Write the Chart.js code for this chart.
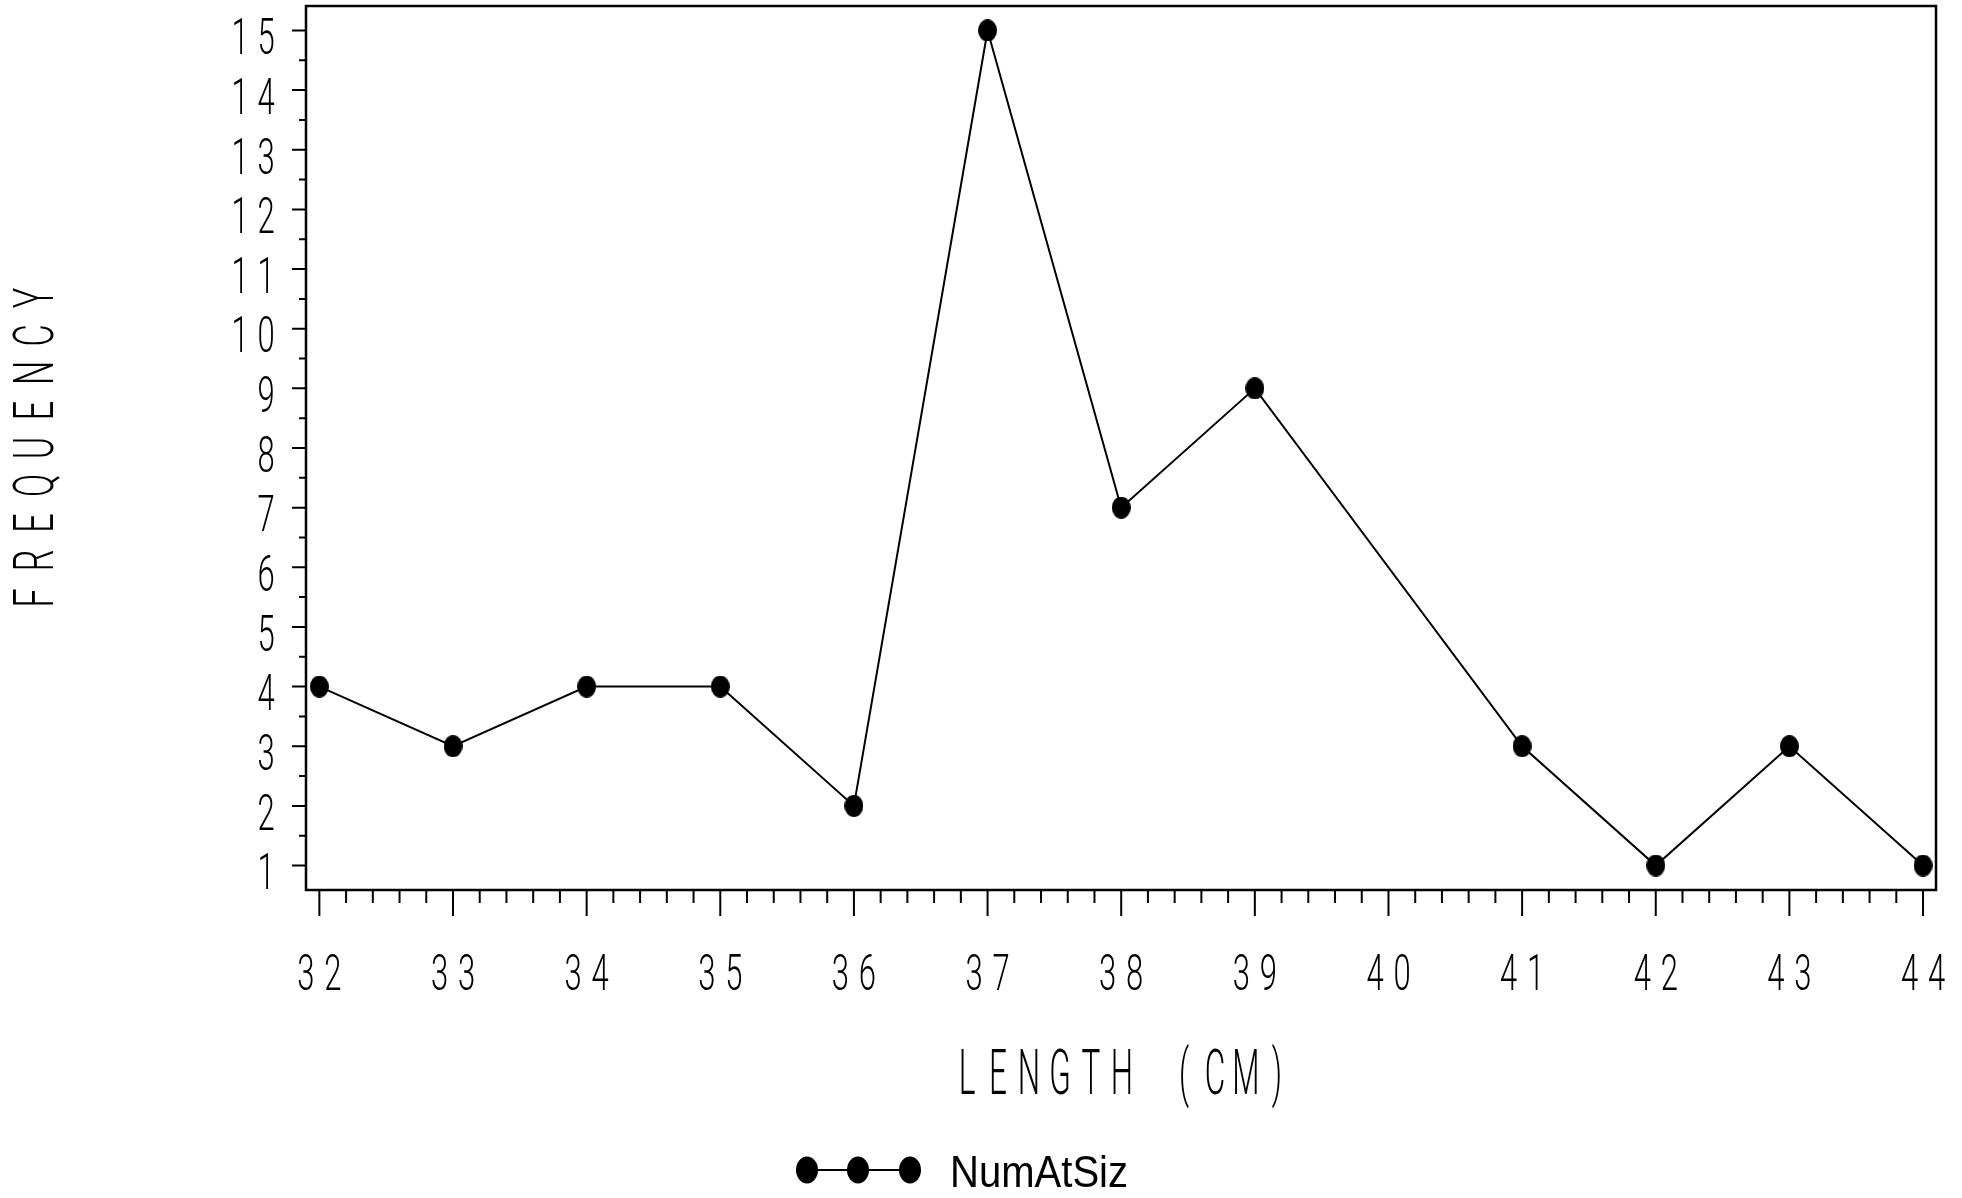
<!DOCTYPE html>
<html><head><meta charset="utf-8">
<script src="https://cdn.jsdelivr.net/npm/chart.js@4.4.0/dist/chart.umd.min.js"></script>
<style>html,body{margin:0;padding:0;background:#fff;}#wrap{width:1962px;height:1198px;}</style>
</head><body><div id="wrap"><canvas id="c" width="1962" height="1198"></canvas></div>
<script>
// ---- data ----
const lengths   = [32, 33, 34, 35, 36, 37, 38, 39, 41, 42, 43, 44];
const frequency = [4, 3, 4, 4, 2, 15, 7, 9, 3, 1, 3, 1];
const xTickValues = [32, 33, 34, 35, 36, 37, 38, 39, 40, 41, 42, 43, 44];
const yTickValues = [1, 2, 3, 4, 5, 6, 7, 8, 9, 10, 11, 12, 13, 14, 15];
const xTitle = 'LENGTH (CM)';
const yTitle = 'FREQUENCY';
const seriesName = 'NumAtSiz';

const THIN = "300 {S}px Roboto, 'DejaVu Sans', sans-serif";
function fnt(size){ return THIN.replace('{S}', size); }

function makeDot(w, h){
  const c = document.createElement('canvas'); c.width = w; c.height = h;
  const g = c.getContext('2d'); g.fillStyle = '#000';
  g.beginPath(); g.ellipse(w/2, h/2, w/2, h/2, 0, 0, Math.PI*2); g.fill();
  return c;
}
const dot = makeDot(19, 22);

function drawChars(ctx, text, centers, baseline, size, sx){
  ctx.font = fnt(size);
  ctx.textAlign = 'center';
  ctx.textBaseline = 'alphabetic';
  for (let i = 0; i < text.length; i++){
    const ch = text[i];
    if (ch === ' ') continue;
    ctx.save();
    ctx.translate(centers[i], baseline);
    ctx.scale(sx, 1);
    ctx.fillText(ch, 0, 0);
    ctx.restore();
  }
}
function centeredPositions(n, cx, pitch){
  const a = []; for (let i = 0; i < n; i++) a.push(cx + (i - (n-1)/2) * pitch); return a;
}

const decor = {
  id: 'decor',
  afterDraw(chart){
    const ctx = chart.ctx, a = chart.chartArea;
    const xs = chart.scales.x, ys = chart.scales.y;
    ctx.save();
    ctx.strokeStyle = '#000'; ctx.fillStyle = '#000';
    ctx.lineWidth = 2.5;
    ctx.strokeRect(a.left, a.top, a.right - a.left, a.bottom - a.top);
    ctx.lineWidth = 2;
    ctx.beginPath();
    for (let k = 2; k <= 30; k++){
      const v = k / 2; const py = ys.getPixelForValue(v);
      const len = (k % 2 === 0) ? 14 : 7;
      ctx.moveTo(a.left - len, py); ctx.lineTo(a.left, py);
    }
    for (let k = 160; k <= 220; k++){
      const v = k / 5; const px = xs.getPixelForValue(v);
      const len = (k % 5 === 0) ? 26 : 13;
      ctx.moveTo(px, a.bottom); ctx.lineTo(px, a.bottom + len);
    }
    ctx.stroke();
    const ySize = 50, yCap = ySize * 0.711;
    yTickValues.forEach(v => {
      const t = String(v); const py = ys.getPixelForValue(v) + 6;
      const centers = []; for (let i = 0; i < t.length; i++) centers.push(a.left - 40 - (t.length - 1 - i) * 26);
      drawChars(ctx, t, centers, py + yCap/2, ySize, 0.62);
    });
    xTickValues.forEach(v => {
      const t = String(v); const px = xs.getPixelForValue(v);
      drawChars(ctx, t, centeredPositions(t.length, px, 27), 972 + yCap/2, ySize, 0.62);
    });
    const tSize = 63, tCap = tSize * 0.711;
    const cx = (a.left + a.right) / 2;
    drawChars(ctx, xTitle, centeredPositions(xTitle.length, cx + 1, 31), 1072 + tCap/2, tSize, 0.5);
    ctx.save();
    ctx.translate(33, 448);
    ctx.rotate(-Math.PI/2);
    const fSize = 55, fCap = fSize * 0.711;
    drawChars(ctx, yTitle, centeredPositions(yTitle.length, 0, 37.5), fCap/2, fSize, 0.62);
    ctx.restore();
    const ly = 1170, lx = [807, 858, 910];
    ctx.lineWidth = 2;
    ctx.beginPath(); ctx.moveTo(lx[0], ly); ctx.lineTo(lx[2], ly); ctx.stroke();
    lx.forEach(x => { ctx.beginPath(); ctx.ellipse(x, ly, 11, 13.5, 0, 0, Math.PI*2); ctx.fill(); });
    ctx.save();
    ctx.translate(950, 1187);
    ctx.scale(0.89, 1);
    ctx.font = "45px 'Liberation Sans', Arial, sans-serif";
    ctx.textAlign = 'left'; ctx.textBaseline = 'alphabetic';
    ctx.fillText(chart.data.datasets[0].label, 0, 0);
    ctx.restore();
    ctx.restore();
  }
};

new Chart(document.getElementById('c'), {
  type: 'scatter',
  data: {
    datasets: [{
      label: seriesName,
      data: lengths.map((x, i) => ({x, y: frequency[i]})),
      showLine: true,
      borderColor: '#000',
      borderWidth: 2,
      backgroundColor: '#000',
      pointStyle: dot,
      pointRadius: 10,
      tension: 0,
      clip: false
    }]
  },
  options: {
    responsive: false,
    animation: false,
    devicePixelRatio: 1,
    layout: { autoPadding: false, padding: { left: 306, right: 26, top: 6, bottom: 308 } },
    plugins: { legend: { display: false }, tooltip: { enabled: false } },
    scales: {
      x: { type: 'linear', display: false, min: 31.9, max: 44.097 },
      y: { type: 'linear', display: false, min: 0.59, max: 15.41 }
    }
  },
  plugins: [decor]
});
</script>
</body></html>
